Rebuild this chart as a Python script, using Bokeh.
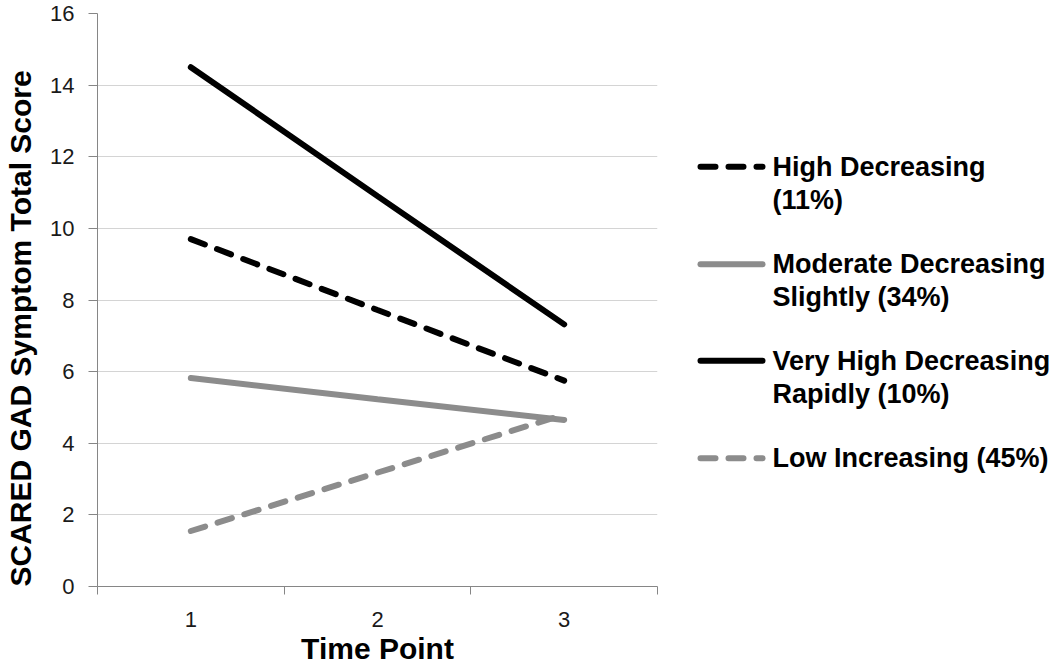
from bokeh.plotting import figure
from bokeh.models import Range1d, FixedTicker, Title
from bokeh.layouts import row
from bokeh.embed import file_html
from bokeh.resources import INLINE
from bokeh.core.properties import value

# ---- data ----
time_points = [1, 2, 3]
high_decreasing = [9.7, 7.72, 5.75]
moderate_decreasing = [5.82, 5.23, 4.65]
very_high_decreasing = [14.5, 10.9, 7.32]
low_increasing = [1.55, 3.18, 4.8]
y_ticks = [0, 2, 4, 6, 8, 10, 12, 14, 16]
x_tick_labels = ["1", "2", "3"]
y_title = "SCARED GAD Symptom Total Score"
x_title = "Time Point"
legend_line1 = ["High Decreasing", "Moderate Decreasing", "Very High Decreasing", "Low Increasing (45%)"]
legend_line2 = ["(11%)", "Slightly (34%)", "Rapidly (10%)", ""]

FONT = value("Liberation Sans")
GRAY = "#8c8c8c"
AXIS_GRAY = "#868686"

series = [
    (high_decreasing, "black", "15 13"),
    (moderate_decreasing, GRAY, "solid"),
    (very_high_decreasing, "black", "solid"),
    (low_increasing, GRAY, "15 13"),
]

p = figure(width=665, height=667, output_backend="svg", toolbar_location=None,
           x_range=Range1d(0.5, 3.5), y_range=Range1d(0, 16),
           min_border_left=97, min_border_right=8, min_border_top=13, min_border_bottom=78)
p.outline_line_color = None
p.background_fill_color = "white"
p.border_fill_color = "white"

for vals, col, dash in series:
    p.line(time_points, vals, line_color=col, line_width=6, line_dash=dash, line_cap="round")

# axes
p.xgrid.grid_line_color = None
p.ygrid.grid_line_color = "#d4d4d4"
p.ygrid.grid_line_width = 1
p.yaxis.ticker = FixedTicker(ticks=y_ticks)
p.xaxis.ticker = FixedTicker(ticks=time_points, minor_ticks=[0.5, 1.5, 2.5, 3.5])
p.xaxis.major_label_overrides = {t: l for t, l in zip(time_points, x_tick_labels)}

for ax in (p.xaxis[0], p.yaxis[0]):
    ax.axis_line_color = AXIS_GRAY
    ax.axis_line_width = 1
    ax.major_label_text_font = "Liberation Sans"
    ax.major_label_text_font_size = "22px"
    ax.major_label_text_color = "#1a1a1a"
    ax.axis_label_text_font = "Liberation Sans"
    ax.axis_label_text_font_size = "30px"
    ax.axis_label_text_font_style = "bold"
    ax.axis_label_text_color = "black"

p.yaxis.major_tick_line_color = AXIS_GRAY
p.yaxis.major_tick_out = 9
p.yaxis.major_tick_in = 0
p.yaxis.minor_tick_line_color = None
p.yaxis.major_label_standoff = 14

p.xaxis.major_tick_line_color = None
p.xaxis.major_tick_out = 0
p.xaxis.minor_tick_line_color = AXIS_GRAY
p.xaxis.minor_tick_out = 8
p.xaxis.minor_tick_in = 0
p.xaxis.major_label_standoff = 17
p.xaxis.axis_label = x_title
p.xaxis.axis_label_standoff = 2

# spacer so that the y title sits at the far left, then the y title itself,
# which starts at the bottom of the plot area like the original
p.add_layout(Title(text=" ", text_font_size="8px", standoff=0), "left")
p.add_layout(Title(text=y_title, align="left", text_font="Liberation Sans",
                   text_font_size="30px", text_font_style="bold", text_color="black",
                   standoff=0), "left")

# ---- legend panel (its plot area is aligned with the main plot area: page y 13..589) ----
lg = figure(width=385, height=667, output_backend="svg", toolbar_location=None,
            x_range=Range1d(0, 385), y_range=Range1d(589, 13),
            min_border=0, min_border_left=0, min_border_right=0,
            min_border_top=13, min_border_bottom=78)
lg.outline_line_color = None
lg.xaxis.visible = False
lg.yaxis.visible = False
lg.grid.visible = False

item_y = [167, 265, 362, 460]
for (vals, col, dash), y, t1, t2 in zip(series, item_y, legend_line1, legend_line2):
    lg.line([35, 97], [y, y], line_color=col, line_width=6, line_dash=dash, line_cap="round")
    lg.text(x=[107], y=[y], text=[t1], text_font=FONT, text_font_style="bold",
            text_font_size="27px", text_baseline="middle", text_align="left", text_color="black")
    if t2:
        lg.text(x=[107], y=[y + 33], text=[t2], text_font=FONT, text_font_style="bold",
                text_font_size="27px", text_baseline="middle", text_align="left", text_color="black")

layout = row(p, lg)
open("out.html", "w").write(file_html(layout, INLINE))
